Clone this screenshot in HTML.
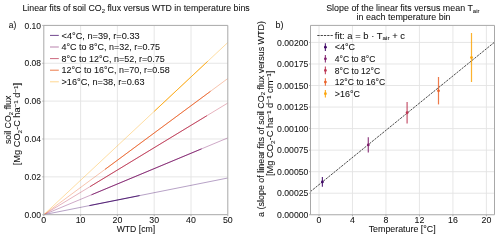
<!DOCTYPE html>
<html><head><meta charset="utf-8"><style>html,body{margin:0;padding:0;background:#fff;width:500px;height:239px;overflow:hidden}svg{display:block;will-change:transform}text{stroke:#111;stroke-width:0.06px}</style></head><body>
<svg width="500" height="239" viewBox="0 0 500 239" font-family='"Liberation Sans", sans-serif' font-size="9.2" fill="#111" stroke-linejoin="round">
<rect width="500" height="239" fill="#fff"/>
<path d="M80.60 25.4V214.7M117.40 25.4V214.7M154.20 25.4V214.7M191.00 25.4V214.7M43.8 176.84H227.8M43.8 138.98H227.8M43.8 101.12H227.8M43.8 63.26H227.8M319.00 25.4V214.76M352.48 25.4V214.76M385.96 25.4V214.76M419.44 25.4V214.76M452.92 25.4V214.76M486.40 25.4V214.76M310.5 193.22H494.5M310.5 171.68H494.5M310.5 150.14H494.5M310.5 128.59H494.5M310.5 107.05H494.5M310.5 85.51H494.5M310.5 63.97H494.5M310.5 42.43H494.5" stroke="#e3e3e3" stroke-width="0.9" fill="none"/>
<g fill="none">
<path d="M43.8 214.7L227.8 178.00" stroke="#420a68" stroke-width="0.7" stroke-opacity="0.55"/>
<path d="M89.40 205.60L139.60 195.59" stroke="#420a68" stroke-width="1.0" stroke-opacity="0.85"/>
<path d="M43.8 214.7L227.8 137.90" stroke="#7f1e6c" stroke-width="0.7" stroke-opacity="0.55"/>
<path d="M91.50 194.79L201.60 148.84" stroke="#7f1e6c" stroke-width="1.0" stroke-opacity="0.85"/>
<path d="M43.8 214.7L227.8 103.00" stroke="#bc3754" stroke-width="0.7" stroke-opacity="0.55"/>
<path d="M90.00 186.65L206.90 115.69" stroke="#bc3754" stroke-width="1.0" stroke-opacity="0.85"/>
<path d="M43.8 214.7L227.8 78.50" stroke="#ea632a" stroke-width="0.7" stroke-opacity="0.55"/>
<path d="M105.00 169.40L210.50 91.31" stroke="#ea632a" stroke-width="1.0" stroke-opacity="0.85"/>
<path d="M43.8 214.7L227.8 42.50" stroke="#fca50a" stroke-width="0.7" stroke-opacity="0.55"/>
<path d="M154.30 111.29L207.60 61.40" stroke="#fca50a" stroke-width="1.0" stroke-opacity="0.85"/>
</g>
<path d="M50 35.40H58.8" stroke="#420a68" stroke-width="1.0" stroke-opacity="0.75"/>
<text x="61.50" y="38.50" textLength="78.15" lengthAdjust="spacingAndGlyphs">&lt;4°C, n=39, r=0.33</text>
<path d="M50 47.00H58.8" stroke="#7f1e6c" stroke-width="1.0" stroke-opacity="0.55"/>
<text x="61.50" y="50.10" textLength="98.40" lengthAdjust="spacingAndGlyphs">4°C to 8°C, n=32, r=0.75</text>
<path d="M50 58.60H58.8" stroke="#bc3754" stroke-width="1.0" stroke-opacity="0.75"/>
<text x="61.50" y="61.70" textLength="103.28" lengthAdjust="spacingAndGlyphs">8°C to 12°C, n=52, r=0.75</text>
<path d="M50 70.20H58.8" stroke="#ea632a" stroke-width="1.0" stroke-opacity="0.85"/>
<text x="61.50" y="73.30" textLength="108.28" lengthAdjust="spacingAndGlyphs">12°C to 16°C, n=70, r=0.58</text>
<path d="M50 81.80H58.8" stroke="#fca50a" stroke-width="1.0" stroke-opacity="0.45"/>
<text x="61.50" y="84.90" textLength="83.02" lengthAdjust="spacingAndGlyphs">&gt;16°C, n=38, r=0.63</text>
<rect x="43.8" y="25.4" width="184.00" height="189.30" fill="none" stroke="#a8a8a8" stroke-width="1"/>
<path d="M43.80 214.7v1.5M80.60 214.7v1.5M117.40 214.7v1.5M154.20 214.7v1.5M191.00 214.7v1.5M227.80 214.7v1.5M43.8 214.70h-1.5M43.8 176.84h-1.5M43.8 138.98h-1.5M43.8 101.12h-1.5M43.8 63.26h-1.5M43.8 25.40h-1.5" stroke="#a8a8a8" stroke-width="0.9"/>
<text x="41.00" y="217.80" text-anchor="end" textLength="16.60" lengthAdjust="spacingAndGlyphs">0.00</text>
<text x="41.00" y="179.94" text-anchor="end" textLength="16.60" lengthAdjust="spacingAndGlyphs">0.02</text>
<text x="41.00" y="142.08" text-anchor="end" textLength="16.60" lengthAdjust="spacingAndGlyphs">0.04</text>
<text x="41.00" y="104.22" text-anchor="end" textLength="16.60" lengthAdjust="spacingAndGlyphs">0.06</text>
<text x="41.00" y="66.36" text-anchor="end" textLength="16.60" lengthAdjust="spacingAndGlyphs">0.08</text>
<text x="41.00" y="28.50" text-anchor="end" textLength="16.60" lengthAdjust="spacingAndGlyphs">0.10</text>
<text x="43.80" y="223.30" text-anchor="middle" textLength="4.90" lengthAdjust="spacingAndGlyphs">0</text>
<text x="80.60" y="223.30" text-anchor="middle" textLength="9.80" lengthAdjust="spacingAndGlyphs">10</text>
<text x="117.40" y="223.30" text-anchor="middle" textLength="9.80" lengthAdjust="spacingAndGlyphs">20</text>
<text x="154.20" y="223.30" text-anchor="middle" textLength="9.80" lengthAdjust="spacingAndGlyphs">30</text>
<text x="191.00" y="223.30" text-anchor="middle" textLength="9.80" lengthAdjust="spacingAndGlyphs">40</text>
<text x="227.80" y="223.30" text-anchor="middle" textLength="9.80" lengthAdjust="spacingAndGlyphs">50</text>
<text x="135.90" y="232.20" text-anchor="middle" textLength="38.50" lengthAdjust="spacingAndGlyphs">WTD [cm]</text>
<path d="M310.5 191.55L494.5 42.19" stroke="#1a1a1a" stroke-width="0.8" stroke-dasharray="2.3 1.0" fill="none"/>
<path d="M322.40 177.00V186.70" stroke="#420a68" stroke-width="1.2" stroke-opacity="0.85"/>
<circle cx="322.40" cy="181.90" r="1.4" fill="#420a68"/>
<path d="M368.30 137.20V152.50" stroke="#7f1e6c" stroke-width="1.2" stroke-opacity="0.85"/>
<circle cx="368.30" cy="144.90" r="1.4" fill="#7f1e6c"/>
<path d="M407.10 102.00V123.60" stroke="#bc3754" stroke-width="1.2" stroke-opacity="0.85"/>
<circle cx="407.10" cy="112.75" r="1.4" fill="#bc3754"/>
<path d="M438.50 77.00V104.40" stroke="#ea632a" stroke-width="1.2" stroke-opacity="0.85"/>
<circle cx="438.50" cy="90.80" r="1.4" fill="#ea632a"/>
<path d="M471.50 33.00V82.00" stroke="#fca50a" stroke-width="1.2" stroke-opacity="0.85"/>
<circle cx="471.50" cy="57.60" r="1.4" fill="#fca50a"/>
<path d="M317.3 35.5H333" stroke="#1a1a1a" stroke-width="0.8" stroke-dasharray="2.3 1.0"/>
<text x="334.80" y="38.60" textLength="70.20" lengthAdjust="spacingAndGlyphs">fit: a = b · T<tspan font-size="6.2" dy="1.5">air</tspan><tspan dy="-1.5"> + c</tspan></text>
<path d="M325.4 43.34V50.94" stroke="#420a68" stroke-width="1.2" stroke-opacity="0.85"/>
<circle cx="325.4" cy="47.14" r="1.4" fill="#420a68"/>
<text x="334.80" y="50.24" textLength="20.28" lengthAdjust="spacingAndGlyphs">&lt;4°C</text>
<path d="M325.4 54.98V62.58" stroke="#7f1e6c" stroke-width="1.2" stroke-opacity="0.85"/>
<circle cx="325.4" cy="58.78" r="1.4" fill="#7f1e6c"/>
<text x="334.80" y="61.88" textLength="40.52" lengthAdjust="spacingAndGlyphs">4°C to 8°C</text>
<path d="M325.4 66.62V74.22" stroke="#bc3754" stroke-width="1.2" stroke-opacity="0.85"/>
<circle cx="325.4" cy="70.42" r="1.4" fill="#bc3754"/>
<text x="334.80" y="73.52" textLength="45.40" lengthAdjust="spacingAndGlyphs">8°C to 12°C</text>
<path d="M325.4 78.26V85.86" stroke="#ea632a" stroke-width="1.2" stroke-opacity="0.85"/>
<circle cx="325.4" cy="82.06" r="1.4" fill="#ea632a"/>
<text x="334.80" y="85.16" textLength="50.40" lengthAdjust="spacingAndGlyphs">12°C to 16°C</text>
<path d="M325.4 89.90V97.50" stroke="#fca50a" stroke-width="1.2" stroke-opacity="0.85"/>
<circle cx="325.4" cy="93.70" r="1.4" fill="#fca50a"/>
<text x="334.80" y="96.80" textLength="25.15" lengthAdjust="spacingAndGlyphs">&gt;16°C</text>
<rect x="310.5" y="25.4" width="184.00" height="189.36" fill="none" stroke="#a8a8a8" stroke-width="1"/>
<path d="M319.00 214.76v1.5M352.48 214.76v1.5M385.96 214.76v1.5M419.44 214.76v1.5M452.92 214.76v1.5M486.40 214.76v1.5M310.5 214.76h-1.5M310.5 193.22h-1.5M310.5 171.68h-1.5M310.5 150.14h-1.5M310.5 128.59h-1.5M310.5 107.05h-1.5M310.5 85.51h-1.5M310.5 63.97h-1.5M310.5 42.43h-1.5" stroke="#a8a8a8" stroke-width="0.9"/>
<text x="308.30" y="217.86" text-anchor="end" textLength="31.20" lengthAdjust="spacingAndGlyphs">0.00000</text>
<text x="308.30" y="196.32" text-anchor="end" textLength="31.20" lengthAdjust="spacingAndGlyphs">0.00025</text>
<text x="308.30" y="174.78" text-anchor="end" textLength="31.20" lengthAdjust="spacingAndGlyphs">0.00050</text>
<text x="308.30" y="153.24" text-anchor="end" textLength="31.20" lengthAdjust="spacingAndGlyphs">0.00075</text>
<text x="308.30" y="131.69" text-anchor="end" textLength="31.20" lengthAdjust="spacingAndGlyphs">0.00100</text>
<text x="308.30" y="110.15" text-anchor="end" textLength="31.20" lengthAdjust="spacingAndGlyphs">0.00125</text>
<text x="308.30" y="88.61" text-anchor="end" textLength="31.20" lengthAdjust="spacingAndGlyphs">0.00150</text>
<text x="308.30" y="67.07" text-anchor="end" textLength="31.20" lengthAdjust="spacingAndGlyphs">0.00175</text>
<text x="308.30" y="45.53" text-anchor="end" textLength="31.20" lengthAdjust="spacingAndGlyphs">0.00200</text>
<text x="319.00" y="223.30" text-anchor="middle" textLength="4.90" lengthAdjust="spacingAndGlyphs">0</text>
<text x="352.48" y="223.30" text-anchor="middle" textLength="4.90" lengthAdjust="spacingAndGlyphs">4</text>
<text x="385.96" y="223.30" text-anchor="middle" textLength="4.90" lengthAdjust="spacingAndGlyphs">8</text>
<text x="419.44" y="223.30" text-anchor="middle" textLength="9.80" lengthAdjust="spacingAndGlyphs">12</text>
<text x="452.92" y="223.30" text-anchor="middle" textLength="9.80" lengthAdjust="spacingAndGlyphs">16</text>
<text x="486.40" y="223.30" text-anchor="middle" textLength="9.80" lengthAdjust="spacingAndGlyphs">20</text>
<text x="402.20" y="232.20" text-anchor="middle" textLength="67.00" lengthAdjust="spacingAndGlyphs">Temperature [°C]</text>
<text x="22.40" y="11.40" textLength="227.30" lengthAdjust="spacingAndGlyphs">Linear fits of soil CO<tspan font-size="6.2" dy="1.5">2</tspan><tspan dy="-1.5"> flux versus WTD in temperature bins</tspan></text>
<text x="326.20" y="11.30" textLength="153.30" lengthAdjust="spacingAndGlyphs">Slope of the linear fits versus mean T<tspan font-size="6.2" dy="1.5">air</tspan><tspan dy="-1.5"></tspan></text>
<text x="403.60" y="19.60" text-anchor="middle" textLength="94.00" lengthAdjust="spacingAndGlyphs">in each temperature bin</text>
<text x="8.70" y="27.50" textLength="7.50" lengthAdjust="spacingAndGlyphs">a)</text>
<text x="275.50" y="27.50" textLength="8.00" lengthAdjust="spacingAndGlyphs">b)</text>
<text x="11.30" y="119.85" text-anchor="middle" textLength="48.50" lengthAdjust="spacingAndGlyphs" transform="rotate(-90 11.30 119.85)">soil CO<tspan font-size="6.2" dy="1.5">2</tspan><tspan dy="-1.5"> flux</tspan></text>
<text x="20.10" y="124.05" text-anchor="middle" textLength="82.30" lengthAdjust="spacingAndGlyphs" transform="rotate(-90 20.10 124.05)">[Mg CO<tspan font-size="6.2" dy="1.5">2</tspan><tspan dy="-1.5">-C ha</tspan><tspan font-size="6.2" dy="-2.2">−1</tspan><tspan dy="2.2"> d</tspan><tspan font-size="6.2" dy="-2.2">−1</tspan><tspan dy="2.2">]</tspan></text>
<text x="263.50" y="119.00" text-anchor="middle" textLength="195.80" lengthAdjust="spacingAndGlyphs" transform="rotate(-90 263.50 119.00)">a (slope of linear fits of soil CO<tspan font-size="6.2" dy="1.5">2</tspan><tspan dy="-1.5"> flux versus WTD)</tspan></text>
<text x="273.30" y="123.40" text-anchor="middle" textLength="105.40" lengthAdjust="spacingAndGlyphs" transform="rotate(-90 273.30 123.40)">[Mg CO<tspan font-size="6.2" dy="1.5">2</tspan><tspan dy="-1.5">-C ha</tspan><tspan font-size="6.2" dy="-2.2">−1</tspan><tspan dy="2.2"> d</tspan><tspan font-size="6.2" dy="-2.2">−1</tspan><tspan dy="2.2"> cm</tspan><tspan font-size="6.2" dy="-2.2">−1</tspan><tspan dy="2.2">]</tspan></text>
</svg>
</body></html>
